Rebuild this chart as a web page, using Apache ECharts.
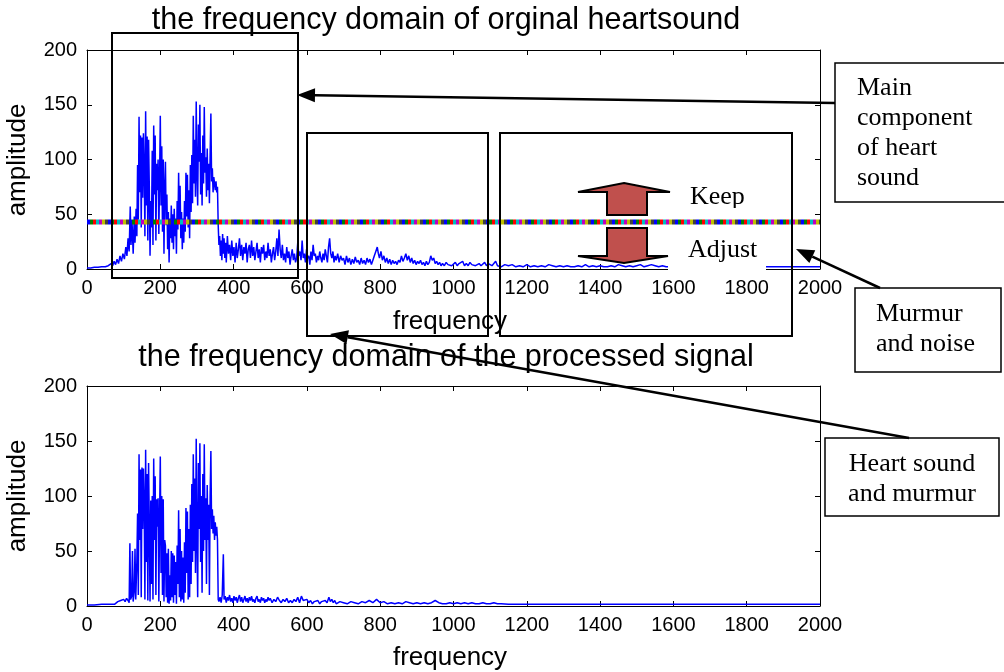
<!DOCTYPE html>
<html><head><meta charset="utf-8">
<script src="https://cdn.jsdelivr.net/npm/echarts@6/dist/echarts.min.js"></script>
<style>html,body{margin:0;padding:0;background:#fff}#c{width:1004px;height:672px}</style>
</head><body><div id="c"></div>
<script>
// ---- data ----
const xTicks = [0,200,400,600,800,1000,1200,1400,1600,1800,2000];
const yTicks = [0,50,100,150,200];
const thresholdLevel = 43;
const stripeColors = ['#0000ff','#008000','#ff0000','#00bfbf','#bf00bf','#bfbf00','#404040'];

const originalSpectrum = [[0,1],[10,1],[20,1.5],[30,1.5],[40,2],[50,2],[58,3],[62,2],[66,5],[70,3],[74,7],[78,4],[82,9],[86,5],[90,12],[94,7],[98,14],[102,9],[106,20],[109,12],[112,28],[115,16],[118,57],[120,22],[123,42],[126,14],[129,48],[131,24],[134,55],[136,30],[138,95],[140,45],[142,139],[144,70],[146,122],[148,38],[150,120],[152,65],[154,124],[156,92],[158,30],[160,144],[162,58],[164,121],[166,26],[168,118],[170,75],[172,12],[174,62],[176,38],[178,108],[180,22],[182,131],[184,68],[186,122],[188,26],[190,96],[192,72],[194,100],[196,32],[198,82],[200,140],[202,58],[204,112],[206,34],[208,100],[210,14],[212,74],[214,98],[216,40],[218,68],[220,18],[222,52],[224,6],[226,46],[228,28],[230,58],[232,24],[234,50],[236,18],[238,55],[240,30],[242,46],[244,14],[246,62],[248,36],[250,88],[252,42],[254,76],[256,28],[258,52],[260,18],[262,46],[264,24],[266,62],[268,34],[270,88],[272,48],[274,86],[276,38],[278,72],[280,28],[282,95],[284,52],[286,104],[288,60],[290,140],[292,78],[294,118],[296,66],[298,153],[300,88],[302,58],[304,132],[306,98],[308,150],[310,68],[312,106],[314,58],[316,122],[318,78],[320,148],[322,88],[324,102],[326,66],[328,110],[330,72],[332,96],[334,60],[336,104],[338,142],[340,80],[342,92],[344,70],[346,84],[348,78],[350,72],[352,80],[354,70],[356,75],[358,40],[360,22],[362,30],[364,12],[366,26],[368,8],[370,32],[372,14],[374,28],[376,10],[378,24],[380,6],[383,30],[386,14],[389,22],[392,8],[395,26],[398,12],[401,20],[404,6],[407,24],[410,10],[413,18],[416,28],[419,12],[422,22],[425,8],[428,20],[431,14],[434,24],[437,6],[440,18],[443,22],[446,10],[449,26],[452,12],[455,20],[458,8],[461,16],[464,24],[467,10],[470,18],[473,6],[476,20],[479,14],[482,22],[485,8],[488,16],[491,10],[494,24],[497,12],[500,18],[503,6],[506,14],[509,20],[512,8],[515,16],[518,28],[521,12],[524,36],[527,18],[530,10],[533,22],[536,8],[539,14],[542,6],[545,20],[548,10],[551,16],[554,4],[557,12],[560,18],[563,8],[566,14],[569,6],[572,10],[575,24],[578,12],[581,16],[584,8],[587,26],[590,10],[593,14],[596,6],[599,18],[602,10],[605,12],[608,4],[611,16],[614,8],[617,22],[620,12],[623,14],[626,6],[629,12],[632,8],[635,16],[638,10],[641,6],[644,14],[647,8],[650,18],[653,12],[656,6],[659,20],[662,28],[665,14],[668,10],[671,16],[674,6],[677,12],[680,8],[684,14],[688,6],[692,12],[696,8],[700,10],[704,4],[708,12],[712,6],[716,10],[720,4],[724,9],[728,5],[732,11],[736,6],[740,8],[744,4],[748,10],[752,5],[756,8],[760,4],[764,10],[768,6],[772,9],[776,4],[780,8],[784,12],[788,16],[792,20],[795,14],[798,10],[802,16],[806,8],[810,12],[814,6],[818,10],[822,5],[826,9],[830,4],[834,8],[838,5],[842,7],[846,4],[850,8],[854,6],[858,12],[862,7],[866,10],[870,14],[874,8],[878,12],[882,6],[886,10],[890,5],[894,8],[898,4],[902,7],[906,5],[910,8],[914,4],[918,6],[922,3],[926,7],[930,4],[934,6],[938,12],[942,8],[946,10],[950,5],[954,7],[958,4],[962,6],[966,3],[970,5],[975,3],[980,6],[985,4],[990,5],[995,3],[1000,4],[1005,6],[1010,3],[1015,5],[1020,4],[1025,7],[1030,3],[1035,5],[1040,3],[1045,6],[1050,4],[1055,5],[1060,3],[1065,4],[1070,5],[1075,3],[1080,4],[1085,6],[1090,3],[1095,5],[1100,4],[1105,3],[1110,5],[1115,7],[1120,3],[1125,4],[1130,2],[1140,4],[1150,3],[1160,4],[1170,2],[1180,3],[1190,2],[1200,4],[1210,2],[1220,3],[1230,2],[1240,3],[1250,2],[1260,4],[1270,3],[1280,2],[1290,3],[1300,2],[1310,3],[1320,2],[1330,2],[1340,3],[1350,2],[1360,4],[1370,2],[1380,3],[1390,2],[1400,3],[1410,2],[1420,2],[1430,3],[1440,2],[1450,4],[1460,3],[1470,2],[1480,3],[1490,2],[1500,3],[1510,4],[1520,2],[1530,3],[1540,4],[1550,3],[1560,2],[1570,3],[1580,2],[1600,2],[1650,2],[1700,2],[1750,2],[1800,2],[1850,2],[1900,2],[1950,2],[2000,2]];

const processedSpectrum = [[0,1],[20,1],[40,1.5],[60,1.5],[75,1.5],[80,3],[84,4],[88,3],[92,5],[96,4],[100,6],[104,4],[108,7],[112,5],[115,3],[117,57],[119,6],[122,9],[124,50],[126,4],[129,14],[131,52],[133,6],[136,40],[138,84],[140,10],[142,138],[144,60],[146,124],[148,8],[150,126],[152,70],[154,125],[156,95],[158,6],[160,142],[162,40],[164,120],[166,5],[168,130],[170,72],[172,4],[174,96],[176,20],[178,100],[180,6],[182,134],[184,60],[186,118],[188,10],[190,97],[192,72],[194,98],[196,4],[198,80],[200,136],[202,30],[204,100],[206,10],[208,97],[210,4],[212,60],[214,55],[216,8],[218,48],[220,3],[222,52],[224,2],[226,28],[228,5],[230,50],[232,8],[234,48],[236,3],[238,46],[240,10],[242,40],[244,2],[246,55],[248,20],[250,87],[252,8],[254,70],[256,4],[258,50],[260,6],[262,44],[264,3],[266,58],[268,12],[270,89],[272,30],[274,86],[276,6],[278,70],[280,8],[282,92],[284,20],[286,111],[288,40],[290,138],[292,50],[294,116],[296,30],[298,152],[300,60],[302,8],[304,130],[306,70],[308,148],[310,40],[312,100],[314,12],[316,120],[318,50],[320,147],[322,60],[324,98],[326,20],[328,110],[330,60],[332,92],[334,10],[336,100],[338,141],[340,70],[342,88],[344,66],[346,82],[348,60],[350,76],[352,64],[354,72],[356,60],[358,6],[360,4],[363,8],[366,3],[369,10],[372,47],[374,6],[377,9],[380,3],[383,8],[386,5],[389,10],[392,4],[395,7],[398,3],[401,9],[404,5],[407,8],[410,3],[413,7],[416,10],[419,4],[422,8],[425,3],[428,6],[431,9],[434,4],[437,7],[440,3],[443,8],[446,5],[449,9],[452,4],[455,6],[458,3],[461,7],[464,9],[467,4],[470,6],[473,3],[476,8],[479,5],[482,7],[485,3],[488,6],[491,4],[494,8],[497,5],[500,7],[505,3],[510,6],[515,4],[520,8],[525,5],[530,3],[535,6],[540,4],[545,7],[550,3],[555,5],[560,3],[565,6],[570,4],[575,8],[580,3],[585,9],[590,5],[595,4],[600,6],[605,3],[610,5],[615,2],[620,4],[625,3],[630,5],[635,2],[640,4],[645,3],[650,5],[655,3],[660,8],[664,4],[668,6],[672,3],[676,5],[680,2],[690,4],[700,3],[710,2],[720,4],[730,3],[740,2],[750,4],[760,3],[770,5],[780,3],[790,6],[800,3],[810,4],[820,2],[830,3],[840,2],[850,3],[860,2],[870,4],[880,3],[890,2],[900,3],[910,2],[920,3],[930,2],[940,3],[950,5],[960,3],[970,2],[980,2],[990,3],[1000,2],[1010,3],[1020,2],[1030,3],[1040,2],[1050,3],[1060,2],[1070,2],[1080,3],[1090,2],[1100,2],[1110,3],[1120,2],[1130,2],[1150,1.5],[1200,1.5],[1300,1.5],[1400,1.5],[1500,1.5],[1600,1.5],[1700,1.5],[1800,1.5],[1900,1.5],[2000,1.5]];

// ---- chart ----
const SANS = 'Liberation Sans, Arial, sans-serif';
const SERIF = 'Liberation Serif, Times New Roman, serif';
const chart = echarts.init(document.getElementById('c'), null, {renderer:'canvas'});

const grids = [
  {left:87, top:50, width:733, height:219},
  {left:87, top:386, width:733, height:220}
];
const plain = v => String(v);
const xAxes = [], yAxes = [];
grids.forEach((g, i) => {
  xAxes.push({type:'value', gridIndex:i, min:xTicks[0], max:xTicks[xTicks.length-1], interval:xTicks[1]-xTicks[0], position:'bottom',
    axisLine:{show:true, onZero:false, lineStyle:{color:'#000', width:1}},
    axisTick:{show:true, inside:true, length:5, lineStyle:{color:'#000'}},
    axisLabel:{show:true, color:'#000', fontSize:20, fontFamily:SANS, margin:9, formatter:plain},
    splitLine:{show:false}});
  xAxes.push({type:'value', gridIndex:i, min:xTicks[0], max:xTicks[xTicks.length-1], interval:xTicks[1]-xTicks[0], position:'top',
    axisLine:{show:true, onZero:false, lineStyle:{color:'#000', width:1}},
    axisTick:{show:true, inside:true, length:5, lineStyle:{color:'#000'}},
    axisLabel:{show:false}, splitLine:{show:false}});
  yAxes.push({type:'value', gridIndex:i, min:yTicks[0], max:yTicks[yTicks.length-1], interval:yTicks[1]-yTicks[0], position:'left',
    axisLine:{show:true, onZero:false, lineStyle:{color:'#000', width:1}},
    axisTick:{show:true, inside:true, length:5, lineStyle:{color:'#000'}},
    axisLabel:{show:true, color:'#000', fontSize:20, fontFamily:SANS, margin:10, formatter:plain},
    splitLine:{show:false}});
  yAxes.push({type:'value', gridIndex:i, min:yTicks[0], max:yTicks[yTicks.length-1], interval:yTicks[1]-yTicks[0], position:'right',
    axisLine:{show:true, onZero:false, lineStyle:{color:'#000', width:1}},
    axisTick:{show:true, inside:true, length:5, lineStyle:{color:'#000'}},
    axisLabel:{show:false}, splitLine:{show:false}});
});

const series = [
  {type:'line', xAxisIndex:0, yAxisIndex:0, data:originalSpectrum, showSymbol:false, symbol:'none',
   lineStyle:{color:'#0000ff', width:1.5}, z:2}
];
const period = stripeColors.length * 3;
stripeColors.forEach((c, i) => {
  series.push({type:'line', xAxisIndex:0, yAxisIndex:0, data:[[xTicks[0],thresholdLevel],[xTicks[xTicks.length-1],thresholdLevel]],
    showSymbol:false, symbol:'none', z:3,
    lineStyle:{color:c, width:5, type:[3, period-3], dashOffset:(period - 3*i) % period, cap:'butt'}});
});
series.push({type:'line', xAxisIndex:2, yAxisIndex:2, data:processedSpectrum, showSymbol:false, symbol:'none',
   lineStyle:{color:'#0000ff', width:1.5}, z:2});

// ---- annotations ----
function arrow(x1, y1, x2, y2) {
  const a = Math.atan2(y2 - y1, x2 - x1), L = 18, W = 7;
  const c = Math.cos(a), s = Math.sin(a);
  const bx = x2 - L * c, by = y2 - L * s;
  return [
    {type:'line', z:120, shape:{x1:x1, y1:y1, x2:bx, y2:by}, style:{stroke:'#000', lineWidth:2.5}},
    {type:'polygon', z:120, shape:{points:[[x2,y2],[bx + W*s, by - W*c],[bx - W*s, by + W*c]]}, style:{fill:'#000'}}
  ];
}
function txt(x, y, t, opts) {
  return Object.assign({type:'text', z:130, x:x, y:y, style:Object.assign({text:t, fill:'#000', font:'26px ' + SERIF, textAlign:'left', textVerticalAlign:'middle'}, opts||{})});
}
function box(x, y, w, h, lw, fill) {
  return {type:'rect', z:110, shape:{x:x, y:y, width:w, height:h}, style:{fill:fill||'none', stroke:'#000', lineWidth:lw}};
}

const graphics = [
  // titles and axis names
  {type:'text', z:100, x:446, y:21, style:{text:'the frequency domain of orginal heartsound', font:'30.5px ' + SANS, fill:'#000', textAlign:'center', textVerticalAlign:'middle'}},
  {type:'text', z:100, x:446, y:358, style:{text:'the frequency domain of the processed signal', font:'30.5px ' + SANS, fill:'#000', textAlign:'center', textVerticalAlign:'middle'}},
  {type:'text', z:100, x:450, y:322, style:{text:'frequency', font:'26px ' + SANS, fill:'#000', textAlign:'center', textVerticalAlign:'middle'}},
  {type:'text', z:100, x:450, y:658, style:{text:'frequency', font:'26px ' + SANS, fill:'#000', textAlign:'center', textVerticalAlign:'middle'}},
  {type:'text', z:100, x:18, y:160, rotation:Math.PI/2, style:{text:'amplitude', font:'26px ' + SANS, fill:'#000', textAlign:'center', textVerticalAlign:'middle'}},
  {type:'text', z:100, x:18, y:496, rotation:Math.PI/2, style:{text:'amplitude', font:'26px ' + SANS, fill:'#000', textAlign:'center', textVerticalAlign:'middle'}},
  // white patch behind "Adjust"
  {type:'rect', z:105, shape:{x:668, y:226, width:98, height:46}, style:{fill:'#fff'}},
  // region boxes
  box(112, 33, 186, 245, 2),
  box(307, 133, 181, 203, 2),
  box(500, 133, 292, 203, 2),
  // keep / adjust block arrows
  {type:'polygon', z:115, shape:{points:[[624,183],[670,192],[647,192],[647,215],[607,215],[607,192],[578,192]]}, style:{fill:'#c0504d', stroke:'#000', lineWidth:2}},
  {type:'polygon', z:115, shape:{points:[[607,228],[647,228],[647,256],[668,256],[624,263],[578,256],[607,256]]}, style:{fill:'#c0504d', stroke:'#000', lineWidth:2}},
  txt(690, 197, 'Keep'),
  {type:'rect', z:131, shape:{x:686, y:208, width:80, height:10}, style:{fill:'#fff'}},
  txt(688, 250, 'Adjust'),
  // callout boxes
  box(835, 63, 170, 139, 1.5, '#fff'),
  txt(857, 88, 'Main'), txt(857, 118, 'component'), txt(857, 148, 'of heart'), txt(857, 178, 'sound'),
  box(855, 288, 146, 84, 1.5, '#fff'),
  txt(876, 314, 'Murmur'), txt(876, 344, 'and noise'),
  box(825, 438, 174, 78, 1.5, '#fff'),
  txt(912, 464, 'Heart sound', {textAlign:'center'}), txt(912, 494, 'and murmur', {textAlign:'center'})
].concat(arrow(835, 103, 297, 95), arrow(880, 288, 796, 249), arrow(909, 438, 330, 334));

chart.setOption({
  animation:false,
  backgroundColor:'#fff',
  grid:grids,
  xAxis:xAxes,
  yAxis:yAxes,
  series:series,
  graphic:{elements:graphics}
});
</script>
</body></html>
